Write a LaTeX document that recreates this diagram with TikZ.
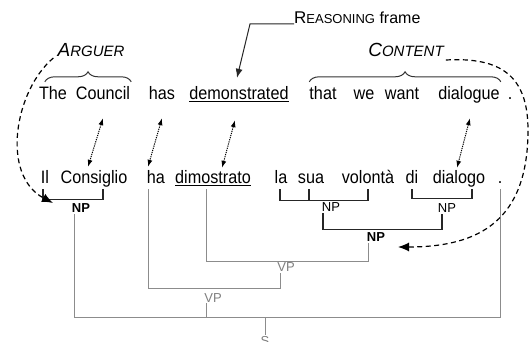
\documentclass[tikz,border=0pt]{standalone}
\usepackage{fontspec}
\setmainfont{Liberation Sans}
\newfontfamily\wordfont[FakeStretch=0.9]{Liberation Sans}
\usetikzlibrary{arrows.meta,decorations.pathreplacing}
\newcommand{\capword}[4]{{\fontsize{#1}{#1}\selectfont #3}{\fontsize{#2}{#2}\selectfont #4}}

\begin{document}
\begin{tikzpicture}[x=1pt, y=-1pt,
  word/.style={font=\wordfont\fontsize{18}{20}\selectfont, anchor=base, inner sep=1pt, text height=12pt, text depth=4pt},
  cat/.style={font=\fontsize{13}{14}\selectfont, anchor=base, inner sep=1pt},
  bar/.style={draw=black!85, line width=1.1pt},
  gline/.style={draw=black!45, line width=0.9pt},
  link/.style={black, line width=1pt, dash pattern=on 1.2pt off 1pt, {Latex[length=7pt,width=5pt]}-{Latex[length=7pt,width=5pt]}},
  dcurve/.style={black, line width=1.2pt, dash pattern=on 5pt off 3.5pt, -{Latex[length=11pt,width=9pt]}},
  brace/.style={draw=black!80, line width=1pt, decorate, decoration={brace, amplitude=10pt}}]
\fill[white] (0,0) rectangle (531,342);
\useasboundingbox (0,0) rectangle (531,342);

% frame labels
\node[anchor=base west, inner sep=0pt, font=\fontsize{16}{17}\selectfont] (reas) at (294,24) {\capword{17}{13}{R}{EASONING} frame};
\node[anchor=base, inner sep=0pt, font=\itshape] (arguer) at (91,57) {\capword{19}{15}{A}{RGUER}};
\node[anchor=base, inner sep=0pt, font=\itshape] (content) at (406,57) {\capword{19}{15}{C}{ONTENT}};

% English sentence
\node[word] (the) at (53,100) {The};
\node[word] (council) at (103,100) {Council};
\node[word] (has) at (162,100) {has};
\node[word] (demonstrated) at (239,100) {\underline{demonstrated}};
\node[word] (that) at (323,100) {that};
\node[word] (we) at (364,100) {we};
\node[word] (want) at (402,100) {want};
\node[word] (dialogue) at (469,100) {dialogue};
\node[word] (dot1) at (510,100) {.};

% Italian sentence
\node[word] (il) at (45,184) {Il};
\node[word] (consiglio) at (94,184) {Consiglio};
\node[word] (ha) at (156,184) {ha};
\node[word] (dimostrato) at (213,184) {\underline{dimostrato}};
\node[word] (la) at (281,184) {la};
\node[word] (sua) at (311,184) {sua};
\node[word] (volonta) at (368,184) {volontà};
\node[word] (di) at (412,184) {di};
\node[word] (dialogo) at (459,184) {dialogo};
\node[word] (dot2) at (500,184) {.};

% categories
\node[cat, font=\fontsize{13}{14}\selectfont\bfseries] (np1) at (81,213) {NP};
\node[cat] (np2) at (331,212) {NP};
\node[cat] (np3) at (447,213) {NP};
\node[cat, font=\fontsize{13}{14}\selectfont\bfseries] (np4) at (376,242) {NP};
\node[cat, text=black!50] (vp1) at (286,272) {VP};
\node[cat, text=black!50] (vp2) at (213,302) {VP};
\node[cat, text=black!50] (s) at (265,345) {S};

% braces
\draw[brace] ([xshift=7pt,yshift=5pt]the.north west) -- ([yshift=5pt]council.north east);
\draw[brace] ([xshift=1pt,yshift=5pt]that.north west) -- ([yshift=5pt]dialogue.north east);

% reasoning arrow
\draw[black!85, line width=1pt, -{Latex[length=9pt,width=7pt]}] (reas.base west) -- ++(-44,0) -- ([xshift=-2pt,yshift=9pt]demonstrated.north);

% alignment links
\draw[link] ([yshift=-13pt]council.south) -- ([xshift=-6pt,yshift=4pt]consiglio.north);
\draw[link] ([yshift=-13pt]has.south) -- ([xshift=-8pt,yshift=4pt]ha.north);
\draw[link] ([xshift=-4pt,yshift=-15pt]demonstrated.south) -- ([xshift=9pt,yshift=3pt]dimostrato.north);
\draw[link] ([xshift=1pt,yshift=-13pt]dialogue.south) -- ([xshift=-2pt,yshift=3pt]dialogo.north);

% tree
\draw[bar] ([xshift=-2pt]il.south) -- ++(0,10) -| ([xshift=9pt]consiglio.south);
\draw[bar] ([xshift=-1pt]la.south) -- ++(0,11) -| (volonta.south);
\draw[bar] ([xshift=-2pt]sua.south) -- ++(0,11);
\draw[bar] (di.south) -- ++(0,9) -| ([xshift=13pt]dialogo.south);
\draw[bar] ([xshift=-8pt]np2.south) -- ++(0,16) -| ([xshift=-5pt]np3.south);
\draw[gline] ([xshift=-7pt]dimostrato.south) -- ++(0,72) -| ([xshift=-8pt]np4.south);
\draw[gline] ([xshift=-8pt]ha.south) -- ++(0,99) -| ([xshift=-6pt]vp1.south);
\draw[gline] ([xshift=-7pt]np1.south) -- ++(0,103) -| (dot2.south);
\draw[gline] ([xshift=-7pt]vp2.south) -- ++(0,14);
\draw[gline] (s.north) -- ++(0,-18);

% frame element arrows
\coordinate (argtip) at (53,203);
\coordinate (contip) at (398,247);
\draw[dcurve] ([xshift=-4pt,yshift=-1pt]arguer.base west) .. controls (15,90) and (0,175) .. (argtip);
\draw[dcurve] ([xshift=2pt,yshift=-3pt]content.base east) .. controls (500,57) and (528,75) .. (528,130) .. controls (528,220) and (480,247) .. (contip);
\end{tikzpicture}
\end{document}
